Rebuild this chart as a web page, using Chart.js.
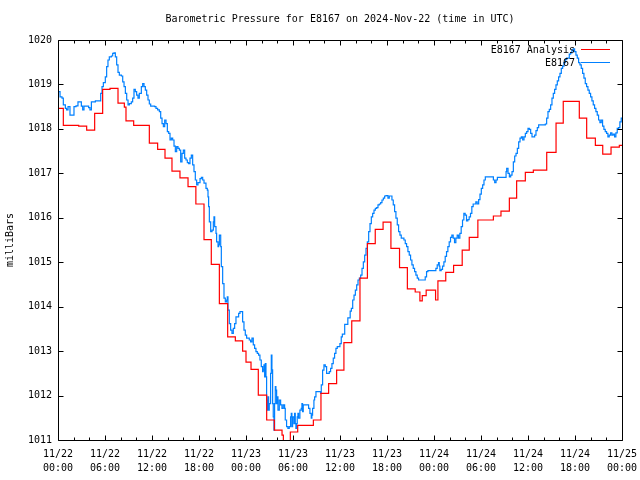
<!DOCTYPE html>
<html>
<head>
<meta charset="utf-8">
<title>Barometric Pressure for E8167</title>
<script src="https://cdn.jsdelivr.net/npm/chart.js@4.4.1/dist/chart.umd.min.js"></script>
<style>
  html, body { margin: 0; padding: 0; background: #fff; }
</style>
</head>
<body>
<canvas id="chart" width="640" height="480"></canvas>
<script>
const TITLE = 'Barometric Pressure for E8167 on 2024-Nov-22 (time in UTC)';
const Y_TITLE = 'milliBars';
const FONT = "'DejaVu Sans Mono', 'Liberation Mono', monospace";

// x axis: hours since 11/22 00:00 UTC, labelled every 6 h
const xTickDates = ['11/22', '11/22', '11/22', '11/22', '11/23', '11/23', '11/23',
                    '11/23', '11/24', '11/24', '11/24', '11/24', '11/25'];
const xTickTimes = ['00:00', '06:00', '12:00', '18:00', '00:00', '06:00', '12:00',
                    '18:00', '00:00', '06:00', '12:00', '18:00', '00:00'];

// E8167 Analysis (red, hourly steps)
const redHours = [0, 0.68, 2.64, 3.66, 4.68, 5.7, 6.64, 7.66, 8.47, 8.68,
  9.66, 11.66, 12.72, 13.66, 14.55, 15.57, 16.6, 17.6, 18.64, 19.57,
  20.6, 21.66, 22.64, 23.57, 24.0, 24.64, 25.57, 26.64, 27.62, 28.6,
  28.77, 29.66, 30.6, 32.6, 33.57, 34.55, 35.57, 36.5, 37.5, 38.55,
  39.5, 40.5, 41.5, 42.5, 43.6, 44.6, 45.6, 46.2, 46.5, 47.0,
  48.2, 48.5, 49.5, 50.5, 51.6, 52.5, 53.6, 55.58, 56.55, 57.62,
  58.55, 59.66, 60.68, 62.39, 63.58, 64.5, 66.55, 67.49, 68.6, 69.54,
  70.6, 71.66, 72];
const redPressure = [1018.46, 1018.08, 1018.06, 1017.97, 1018.35, 1018.89, 1018.91, 1018.58, 1018.49, 1018.18,
  1018.08, 1017.68, 1017.54, 1017.34, 1017.05, 1016.90, 1016.70, 1016.31, 1015.51, 1014.95,
  1014.07, 1013.32, 1013.23, 1013.00, 1012.75, 1012.59, 1012.01, 1011.45, 1011.22, 1011.11,
  1010.90, 1011.18, 1011.33, 1011.45, 1012.05, 1012.27, 1012.57, 1013.19, 1013.68, 1014.64,
  1015.42, 1015.74, 1015.90, 1015.31, 1014.88, 1014.40, 1014.33, 1014.13, 1014.25, 1014.37,
  1014.15, 1014.58, 1014.77, 1014.93, 1015.27, 1015.56, 1015.95, 1016.04, 1016.15, 1016.44,
  1016.83, 1017.02, 1017.07, 1017.47, 1018.13, 1018.62, 1018.24, 1017.79, 1017.63, 1017.43,
  1017.59, 1017.63, 1017.63];

// E8167 station readings (blue)
const blueHours = [
  0, 0.26, 0.51, 0.68, 0.94, 1.1, 1.28, 1.53, 1.79, 2.04,
  2.3, 2.55, 2.81, 2.98, 3.15, 3.32, 3.66, 3.91, 4.08, 4.26,
  4.77, 5.28, 5.45, 5.62, 5.79, 6.04, 6.21, 6.38, 6.55, 6.81,
  6.98, 7.15, 7.32, 7.49, 7.66, 7.83, 8.09, 8.26, 8.43, 8.6,
  8.77, 8.94, 9.11, 9.36, 9.53, 9.7, 9.87, 10.04, 10.21, 10.38,
  10.64, 10.81, 10.98, 11.15, 11.32, 11.49, 11.66, 11.83, 12.34, 12.51,
  12.72, 12.94, 13.11, 13.28, 13.45, 13.62, 13.79, 13.96, 14.13, 14.3,
  14.47, 14.64, 14.81, 14.98, 15.15, 15.32, 15.49, 15.66, 15.83, 16.0,
  16.17, 16.34, 16.51, 16.68, 16.85, 17.02, 17.19, 17.36, 17.53, 17.7,
  17.87, 18.13, 18.3, 18.47, 18.64, 18.89, 19.06, 19.15, 19.23, 19.32,
  19.49, 19.66, 19.83, 19.91, 20.0, 20.17, 20.25, 20.43, 20.51, 20.6,
  20.68, 20.77, 20.85, 21.02, 21.19, 21.36, 21.53, 21.61, 21.7, 21.87,
  22.04, 22.21, 22.38, 22.55, 22.72, 22.89, 23.06, 23.23, 23.4, 23.57,
  23.74, 23.91, 24.08, 24.25, 24.42, 24.59, 24.76, 24.93, 25.1, 25.27,
  25.44, 25.61, 25.78, 25.95, 26.12, 26.2, 26.29, 26.38, 26.46, 26.55,
  26.63, 26.72, 26.8, 26.89, 26.97, 27.14, 27.23, 27.31, 27.4, 27.48,
  27.57, 27.65, 27.74, 27.82, 27.91, 28.0, 28.08, 28.25, 28.42, 28.59,
  28.76, 28.93, 29.01, 29.18, 29.35, 29.52, 29.69, 29.78, 29.86, 29.95,
  30.12, 30.2, 30.29, 30.37, 30.46, 30.54, 30.63, 30.71, 30.88, 31.05,
  31.14, 31.22, 31.31, 31.99, 32.16, 32.33, 32.41, 32.5, 32.67, 32.76,
  32.93, 33.52, 33.61, 33.78, 33.95, 34.12, 34.29, 34.46, 34.63, 34.8,
  34.97, 35.14, 35.31, 35.48, 35.65, 35.99, 36.16, 36.3, 36.6, 37.0,
  37.3, 37.45, 37.62, 37.79, 37.96, 38.13, 38.3, 38.47, 38.64, 38.81,
  38.98, 39.15, 39.32, 39.49, 39.66, 39.83, 40.0, 40.17, 40.34, 40.51,
  40.68, 40.85, 41.02, 41.19, 41.36, 41.53, 41.7, 41.87, 42.12, 42.29,
  42.63, 42.8, 42.97, 43.14, 43.31, 43.48, 43.65, 43.82, 44.16, 44.33,
  44.5, 44.67, 44.84, 45.01, 45.18, 45.35, 45.52, 45.69, 45.86, 46.03,
  46.88, 47.05, 47.22, 48.24, 48.41, 48.58, 48.67, 48.75, 48.92, 49.09,
  49.26, 49.43, 49.6, 49.77, 49.94, 50.11, 50.28, 50.45, 50.62, 50.79,
  50.96, 51.13, 51.3, 51.47, 51.64, 51.81, 51.98, 52.15, 52.32, 52.49,
  52.66, 52.83, 53.0, 53.34, 53.51, 53.7, 53.87, 54.04, 54.21, 54.38,
  54.55, 55.58, 55.75, 55.92, 56.09, 57.2, 57.28, 57.45, 57.62, 57.79,
  57.96, 58.13, 58.3, 58.47, 58.64, 58.81, 58.98, 59.15, 59.32, 59.49,
  59.66, 59.83, 60.0, 60.17, 60.34, 60.51, 60.85, 61.02, 61.19, 61.36,
  62.21, 62.38, 62.55, 62.72, 62.89, 63.06, 63.23, 63.4, 63.57, 63.74,
  63.91, 64.08, 64.25, 64.42, 64.59, 64.76, 64.93, 65.27, 65.44, 65.61,
  65.78, 65.95, 66.12, 66.29, 66.46, 66.63, 66.8, 66.97, 67.14, 67.31,
  67.48, 67.65, 67.82, 67.99, 68.16, 68.33, 68.5, 68.67, 68.84, 69.01,
  69.18, 69.35, 69.52, 69.69, 69.86, 70.03, 70.2, 70.37, 70.54, 70.71,
  70.88, 71.05, 71.22, 71.39, 71.56, 71.73, 71.9, 72];
const bluePressure = [
  1018.84, 1018.72, 1018.69, 1018.54, 1018.46, 1018.43, 1018.5, 1018.31, 1018.31, 1018.5,
  1018.52, 1018.61, 1018.61, 1018.51, 1018.43, 1018.51, 1018.51, 1018.48, 1018.43, 1018.61,
  1018.63, 1018.63, 1018.8, 1018.95, 1019.04, 1019.17, 1019.4, 1019.55, 1019.62, 1019.64,
  1019.7, 1019.71, 1019.62, 1019.44, 1019.27, 1019.21, 1019.19, 1019.06, 1018.95, 1018.8,
  1018.65, 1018.54, 1018.57, 1018.61, 1018.69, 1018.89, 1018.84, 1018.76, 1018.69, 1018.8,
  1018.95, 1019.02, 1018.95, 1018.87, 1018.76, 1018.65, 1018.56, 1018.51, 1018.5, 1018.46,
  1018.43, 1018.39, 1018.24, 1018.12, 1018.05, 1018.2, 1018.12, 1017.94, 1017.9, 1017.75,
  1017.79, 1017.75, 1017.61, 1017.49, 1017.6, 1017.56, 1017.52, 1017.26, 1017.45, 1017.52,
  1017.34, 1017.3, 1017.24, 1017.22, 1017.34, 1017.41, 1017.19, 1017.04, 1016.85, 1016.74,
  1016.79, 1016.88, 1016.91, 1016.85, 1016.78, 1016.66, 1016.62, 1016.47, 1016.25, 1015.91,
  1015.69, 1015.72, 1015.91, 1016.02, 1015.8, 1015.65, 1015.46, 1015.35, 1015.39, 1015.61,
  1015.61, 1015.35, 1014.9, 1014.52, 1014.19, 1014.11, 1014.15, 1014.22, 1013.92, 1013.62,
  1013.47, 1013.4, 1013.51, 1013.62, 1013.77, 1013.77, 1013.85, 1013.89, 1013.89, 1013.66,
  1013.47, 1013.36, 1013.29, 1013.29, 1013.25, 1013.21, 1013.29, 1013.14, 1013.06, 1012.99,
  1012.95, 1012.91, 1012.8, 1012.65, 1012.54, 1012.58, 1012.69, 1012.42, 1012.72, 1012.42,
  1011.9, 1011.67, 1011.97, 1011.67, 1011.82, 1012.5, 1012.91, 1012.58, 1011.82, 1011.52,
  1011.22, 1011.82, 1012.2, 1012.12, 1011.82, 1011.97, 1011.67, 1011.9, 1011.79, 1011.71,
  1011.79, 1011.71, 1011.45, 1011.3, 1011.26, 1011.3, 1011.52, 1011.6, 1011.3, 1011.52,
  1011.37, 1011.6, 1011.37, 1011.26, 1011.37, 1011.52, 1011.6, 1011.49, 1011.67, 1011.71,
  1011.82, 1011.64, 1011.79, 1011.71, 1011.6, 1011.49, 1011.56, 1011.71, 1011.9, 1011.97,
  1012.09, 1012.05, 1012.24, 1012.57, 1012.69, 1012.65, 1012.5, 1012.5, 1012.54, 1012.61,
  1012.72, 1012.84, 1012.95, 1013.06, 1013.1, 1013.17, 1013.32, 1013.38, 1013.6, 1013.75,
  1013.9, 1013.96, 1014.15, 1014.26, 1014.37, 1014.49, 1014.6, 1014.64, 1014.71, 1014.86,
  1015.01, 1015.16, 1015.31, 1015.46, 1015.69, 1015.87, 1016.02, 1016.1, 1016.17, 1016.21,
  1016.23, 1016.29, 1016.31, 1016.34, 1016.4, 1016.44, 1016.49, 1016.5, 1016.44, 1016.49,
  1016.4, 1016.29, 1016.14, 1015.99, 1015.84, 1015.69, 1015.61, 1015.54, 1015.5, 1015.42,
  1015.35, 1015.24, 1015.16, 1015.05, 1014.94, 1014.86, 1014.79, 1014.71, 1014.64, 1014.6,
  1014.67, 1014.79, 1014.81, 1014.86, 1014.94, 1014.99, 1014.91, 1014.81, 1014.84, 1014.91,
  1015.01, 1015.13, 1015.24, 1015.35, 1015.46, 1015.56, 1015.61, 1015.54, 1015.44, 1015.54,
  1015.61, 1015.54, 1015.65, 1015.8, 1015.95, 1016.1, 1016.06, 1015.93, 1015.96, 1016.02,
  1016.1, 1016.25, 1016.31, 1016.36, 1016.31, 1016.41, 1016.53, 1016.66, 1016.74, 1016.85,
  1016.92, 1016.85, 1016.79, 1016.85, 1016.91, 1017.04, 1017.11, 1017.0, 1016.92, 1016.96,
  1017.04, 1017.26, 1017.39, 1017.45, 1017.56, 1017.71, 1017.79, 1017.82, 1017.75, 1017.82,
  1017.9, 1017.94, 1018.01, 1017.99, 1017.9, 1017.82, 1017.86, 1017.96, 1018.03, 1018.09,
  1018.11, 1018.24, 1018.39, 1018.44, 1018.54, 1018.69, 1018.8, 1018.89, 1018.99, 1019.08,
  1019.17, 1019.25, 1019.36, 1019.41, 1019.49, 1019.56, 1019.59, 1019.68, 1019.71, 1019.77,
  1019.8, 1019.74, 1019.66, 1019.59, 1019.49, 1019.44, 1019.36, 1019.25, 1019.14, 1019.02,
  1018.95, 1018.87, 1018.8, 1018.72, 1018.63, 1018.54, 1018.46, 1018.39, 1018.31, 1018.2,
  1018.14, 1018.2, 1018.06, 1017.99, 1017.94, 1017.9, 1017.82, 1017.86, 1017.91, 1017.86,
  1017.88, 1017.82, 1017.91, 1018.01, 1018.03, 1018.16, 1018.24, 1018.24];

const toPoints = (xs, ys) => xs.slice(0, ys.length).map((x, i) => ({ x, y: ys[i] }));

// gnuplot style box with inward ticks (major every 6 h, minor every 2 h)
const frameTicks = {
  id: 'frameTicks',
  afterDatasetsDraw(chart) {
    const { ctx, chartArea: a, scales } = chart;
    const L = Math.round(a.left) + 0.5, R = Math.round(a.right) + 0.5;
    const T = Math.round(a.top) + 0.5, B = Math.round(a.bottom) + 0.5;
    ctx.save();
    ctx.strokeStyle = '#000';
    ctx.lineWidth = 1;
    ctx.beginPath();
    ctx.rect(L, T, R - L, B - T);
    for (let h = 0; h <= 72; h += 2) {
      const px = Math.round(scales.x.getPixelForValue(h)) + 0.5;
      const len = h % 6 === 0 ? 5 : 3;
      ctx.moveTo(px, B); ctx.lineTo(px, B - len);
      ctx.moveTo(px, T); ctx.lineTo(px, T + len);
    }
    for (let p = 1011; p <= 1020; p++) {
      const py = Math.round(scales.y.getPixelForValue(p)) + 0.5;
      ctx.moveTo(L, py); ctx.lineTo(L + 5, py);
      ctx.moveTo(R, py); ctx.lineTo(R - 5, py);
    }
    ctx.stroke();
    ctx.restore();
  },
};

// key in the top right corner: text first, then line sample
const keyPlugin = {
  id: 'key',
  afterDatasetsDraw(chart) {
    const { ctx, chartArea: a } = chart;
    ctx.save();
    ctx.font = `10px ${FONT}`;
    ctx.textAlign = 'right';
    ctx.textBaseline = 'middle';
    chart.data.datasets.forEach((ds, i) => {
      const y = Math.round(a.top) + 9 + i * 13;
      ctx.fillStyle = '#000';
      ctx.fillText(ds.label, a.right - 47, y + 1);
      ctx.strokeStyle = ds.borderColor;
      ctx.lineWidth = 1;
      ctx.beginPath();
      ctx.moveTo(a.right - 41, y + 0.5);
      ctx.lineTo(a.right - 12, y + 0.5);
      ctx.stroke();
    });
    ctx.restore();
  },
};

const tickFont = { family: FONT, size: 10, lineHeight: 1.4 };

new Chart(document.getElementById('chart'), {
  type: 'line',
  data: {
    datasets: [
      {
        label: 'E8167 Analysis',
        data: toPoints(redHours, redPressure),
        borderColor: '#ff0000',
        borderWidth: 1.2,
        stepped: 'before',
        pointRadius: 0,
        fill: false,
      },
      {
        label: 'E8167',
        data: toPoints(blueHours, bluePressure),
        borderColor: '#0080ff',
        borderWidth: 1.2,
        stepped: 'before',
        pointRadius: 0,
        fill: false,
      },
    ],
  },
  options: {
    responsive: false,
    animation: false,
    events: [],
    layout: { padding: { left: 0, right: 18, top: 0, bottom: 0 } },
    plugins: {
      legend: { display: false },
      tooltip: { enabled: false },
      title: {
        display: true,
        fullSize: false,
        text: TITLE,
        color: '#000',
        font: { family: FONT, size: 10, weight: 'normal', lineHeight: 1.2 },
        padding: { top: 13, bottom: 15 },
      },
    },
    scales: {
      x: {
        type: 'linear',
        min: 0,
        max: 72,
        grid: { display: false, drawTicks: false },
        border: { display: false },
        ticks: {
          stepSize: 6,
          autoSkip: false,
          maxRotation: 0,
          padding: 7,
          color: '#000',
          font: tickFont,
          callback: v => {
            const i = Math.round(v / 6);
            return [xTickDates[i], xTickTimes[i]];
          },
        },
        afterFit: s => { s.height = 40; s.paddingLeft = 0; s.paddingRight = 0; },
      },
      y: {
        min: 1011,
        max: 1020,
        grid: { display: false, drawTicks: false },
        border: { display: false },
        ticks: {
          stepSize: 1,
          padding: 6,
          color: '#000',
          font: { family: FONT, size: 10, lineHeight: 1.2 },
          callback: v => String(v),
        },
        title: {
          display: true,
          text: Y_TITLE,
          color: '#000',
          font: { family: FONT, size: 10, lineHeight: 1.2 },
          padding: { top: 4, bottom: 0 },
        },
        afterFit: s => { s.width = 58; },
      },
    },
  },
  plugins: [frameTicks, keyPlugin],
});
</script>
</body>
</html>
